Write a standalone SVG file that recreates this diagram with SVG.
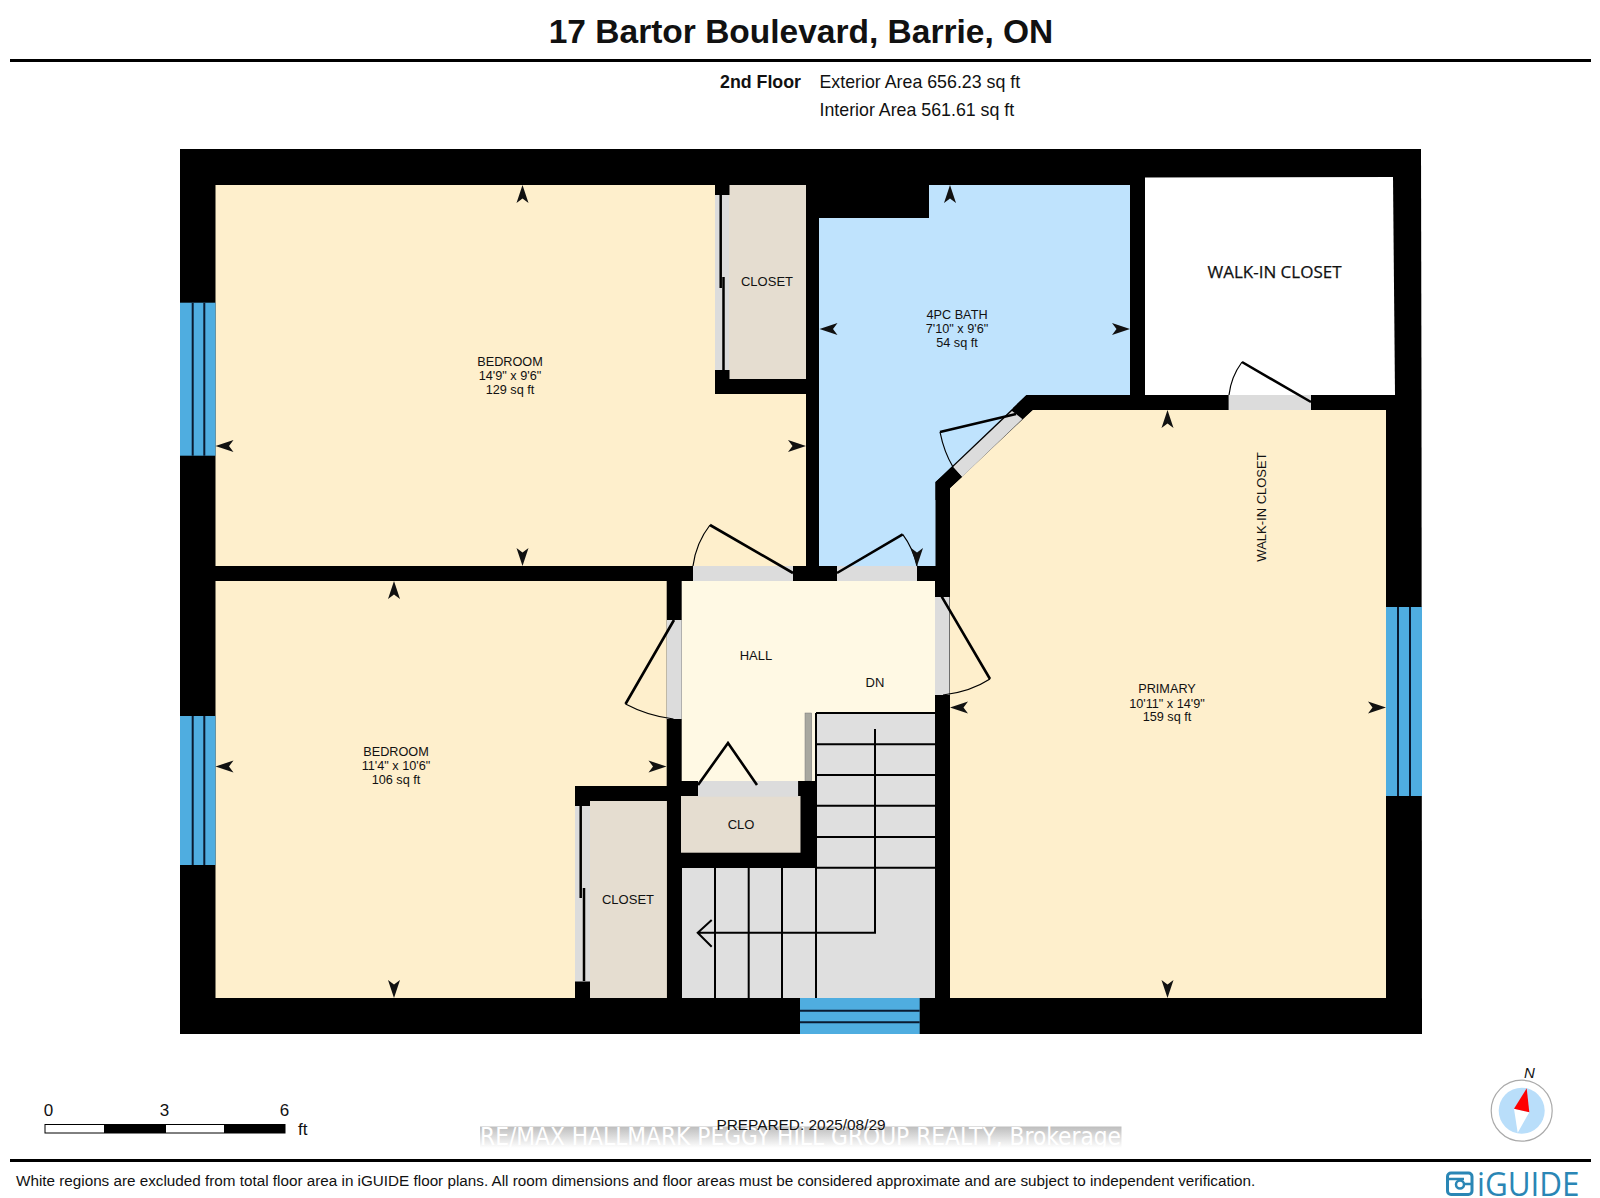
<svg xmlns="http://www.w3.org/2000/svg" width="1600" height="1198" viewBox="0 0 1600 1198">
<defs>
<path id="ah" d="M0 0L6 18L0 13.5L-6 18Z" fill="#111"/>
<linearGradient id="wm" x1="0" y1="0" x2="0" y2="1"><stop offset="0" stop-color="#bdbdbd"/><stop offset="1" stop-color="#ffffff"/></linearGradient>
</defs>
<style>
text{font-family:"Liberation Sans",Arial,sans-serif;fill:#111}
.rm{font-size:12.7px;text-anchor:middle}
.lb{font-size:13px;text-anchor:middle}
.door{fill:#dcdcdc}
.wall{fill:#000}
.win{fill:#4fade0}
.wl{stroke:#0a1a30;stroke-width:2;fill:none}
.leaf{stroke:#000;stroke-width:2.600;fill:none}
.arc{stroke:#000;stroke-width:1.200;fill:none}
.st{stroke:#000;stroke-width:2;fill:none}
.cream{fill:#feefcc}
.clo{fill:#e5ddd0}
</style>
<rect width="1600" height="1198" fill="#fff"/>
<g id="header">
<text x="801" y="43" font-size="33.500" font-weight="bold" text-anchor="middle">17 Bartor Boulevard, Barrie, ON</text>
<rect x="10" y="59" width="1581" height="3" fill="#000"/>
<text x="801" y="88" font-size="17.800" font-weight="bold" text-anchor="end">2nd Floor</text>
<text x="819.500" y="88" font-size="17.800">Exterior Area 656.23 sq ft</text>
<text x="819.500" y="115.500" font-size="17.800">Interior Area 561.61 sq ft</text>
</g>
<g id="walls"><path class="wall" d="M180 149H1421L1421.500 405L1422 1034H180Z"/></g>
<g id="bedroom-1">
<rect class="cream" x="215.500" y="185" width="590.500" height="381"/>
<rect class="clo" x="729" y="185" width="77" height="194"/>
<rect class="door" x="715" y="195" width="14" height="175"/>
<path class="wall" d="M715 185H729.500V195H715ZM715 370H729.500V379H806V394H715Z"/>
<path d="M720.700 195V288M723.500 277V370" stroke="#000" stroke-width="2.500" fill="none"/>
<text class="rm" x="510" y="366">BEDROOM</text><text class="rm" x="510" y="380">14'9" x 9'6"</text><text class="rm" x="510" y="394">129 sq ft</text>
<text class="lb" x="767" y="286">CLOSET</text>
</g>
<g id="bedroom-2">
<rect class="cream" x="215.500" y="581" width="451.200" height="417"/>
<rect class="clo" x="590" y="801" width="76.700" height="197"/>
<rect class="door" x="575" y="806" width="15" height="176"/>
<path class="wall" d="M575 786H667V801H590V806H575ZM575 981.500H590V998H575Z"/>
<path d="M580.700 806V898M584 888V981" stroke="#000" stroke-width="2.500" fill="none"/>
<text class="rm" x="396" y="756">BEDROOM</text><text class="rm" x="396" y="770">11'4" x 10'6"</text><text class="rm" x="396" y="784">106 sq ft</text>
<text class="lb" x="628" y="904">CLOSET</text>
</g>
<g id="hall">
<path d="M681.700 581H935V713H816V781H681.700Z" fill="#fff9e4"/>
<text class="lb" x="756" y="660">HALL</text>
<text class="lb" x="875" y="687">DN</text>
</g>
<g id="clo">
<rect class="clo" x="681" y="796" width="119.700" height="56.700"/>
<rect class="door" x="698" y="781" width="100.300" height="15.700"/>
<text class="lb" x="741" y="829">CLO</text>
</g>
<g id="stairs">
<path d="M817 713H935V998H682V868H817Z" fill="#dfdfdf"/>
<rect x="805" y="713" width="6.700" height="68" fill="#a8a8a0" stroke="#777" stroke-width=".5"/>
<path class="wall" d="M798.300 781H811.700V788H816.700V868H800.700V796H798.300Z"/>
<path class="st" d="M816 713H935M816 713V790M817 744.300H935M817 775H935M817 805.700H935M817 837H935M817 867.700H935M715 868V998M748.700 868V998M782 868V998M816 868V998"/>
<path class="st" d="M875 729V932.700H698M711.700 920L697.700 932.700L711.700 946.700"/>
</g>
<g id="bath">
<path d="M819 218H929V185H1130V395H1026.500L935.500 482V566H819Z" fill="#bfe3fd"/>
<text class="rm" x="957" y="319">4PC BATH</text><text class="rm" x="957" y="333">7'10" x 9'6"</text><text class="rm" x="957" y="347">54 sq ft</text>
</g>
<g id="walk-in">
<path d="M1145 177.500L1393 177L1395 395H1145Z" fill="#fff"/>
<text x="1274.500" y="278" font-size="17" text-anchor="middle" stroke="#111" stroke-width=".25" style="font-family:'Open Sans',sans-serif">WALK-IN CLOSET</text>
</g>
<g id="primary">
<path class="cream" d="M1032.600 410H1386V998H950V488Z"/>
<text class="rm" x="1167" y="693">PRIMARY</text><text class="rm" x="1167" y="708">10'11" x 14'9"</text><text class="rm" x="1167" y="721">159 sq ft</text>
<text class="lb" x="0" y="0" transform="translate(1266 507) rotate(-90)">WALK-IN CLOSET</text>
</g>
<g id="doors">
<rect class="door" x="693" y="566" width="100" height="15"/>
<rect class="door" x="837" y="566" width="80" height="15"/>
<rect class="door" x="935" y="597" width="14.500" height="98"/>
<rect class="door" x="666.700" y="620" width="15" height="99"/>
<rect class="door" x="1228.600" y="395" width="82.400" height="15"/>
<path class="door" d="M1012 411L1022.400 419L962 477L953 467Z"/>
<path class="wall" d="M1013 408L1026.500 395L1032.600 410L1022.400 419ZM935.500 482L953 467L962 477L950 488V500H935.500Z"/>
<path class="leaf" d="M793 573L710 525M837 573L902.700 534.300M941.700 596.700L990 679M674 620L625.500 704M1311 402L1242 362M1016 414L940 432M698 785L728 743L757 785"/>
<path class="arc" d="M710 525Q696 543 693 566M902.700 534.300Q913 548 917 566M990 679Q970 692 943 695M625.500 704Q648 716 673.500 719M1242 362Q1231 377 1229 395M940 432Q944 452 953 467"/>
</g>
<g id="windows">
<rect class="win" x="180" y="302.700" width="35.500" height="153"/><path class="wl" d="M192.700 302.700V455.700M204.300 302.700V455.700"/>
<rect class="win" x="180" y="716" width="35.500" height="149"/><path class="wl" d="M192.700 716V865M204.300 716V865"/>
<rect class="win" x="1386" y="607" width="36" height="189"/><path class="wl" d="M1398 607V796M1410 607V796"/>
<rect class="win" x="800" y="998" width="119.700" height="36"/><path class="wl" d="M800 1010.700H919.700M800 1022.300H919.700"/>
</g>
<g id="dimension-arrows">
<use href="#ah" transform="translate(522.500 185)"/><use href="#ah" transform="translate(522.500 566) rotate(180)"/><use href="#ah" transform="translate(215.500 446) rotate(-90)"/><use href="#ah" transform="translate(806 446) rotate(90)"/>
<use href="#ah" transform="translate(394 581)"/><use href="#ah" transform="translate(394 998) rotate(180)"/><use href="#ah" transform="translate(215.500 766.500) rotate(-90)"/><use href="#ah" transform="translate(666.500 766.500) rotate(90)"/>
<use href="#ah" transform="translate(950 185)"/><use href="#ah" transform="translate(917 566) rotate(180)"/><use href="#ah" transform="translate(819.500 329) rotate(-90)"/><use href="#ah" transform="translate(1130 329) rotate(90)"/>
<use href="#ah" transform="translate(1167.500 410)"/><use href="#ah" transform="translate(1167.500 998) rotate(180)"/><use href="#ah" transform="translate(950 707.500) rotate(-90)"/><use href="#ah" transform="translate(1386 707.500) rotate(90)"/>
</g>
<g id="scale">
<rect x="45" y="1124.500" width="240" height="8.500" fill="#fff" stroke="#000" stroke-width="1"/>
<rect x="104" y="1124.500" width="62" height="8.500" fill="#000"/><rect x="224" y="1124.500" width="61" height="8.500" fill="#000"/>
<text x="48.500" y="1116" font-size="17" text-anchor="middle">0</text><text x="164.500" y="1116" font-size="17" text-anchor="middle">3</text><text x="284.500" y="1116" font-size="17" text-anchor="middle">6</text>
<text x="298" y="1135" font-size="17">ft</text>
</g>
<g id="watermark">
<rect x="480" y="1126.500" width="641.500" height="21.500" fill="url(#wm)"/>
<text x="480" y="1145" font-size="24" textLength="641" lengthAdjust="spacingAndGlyphs" style="font-family:'DejaVu Sans',sans-serif;fill:#fff">RE/MAX HALLMARK PEGGY HILL GROUP REALTY, Brokerage</text>
<text x="801" y="1130" font-size="15.400" text-anchor="middle">PREPARED: 2025/08/29</text>
</g>
<g id="compass">
<circle cx="1521.700" cy="1110.700" r="30.500" fill="#fff" stroke="#aaa" stroke-width="1.200"/>
<circle cx="1521.700" cy="1110.700" r="23" fill="#b9defa"/>
<path d="M1514 1108.700L1529.300 1112.300L1517.700 1132.700Z" fill="#fff"/>
<path d="M1526.700 1088.300L1514 1108.700L1529.300 1112.300Z" fill="#f00"/>
<text x="1529.500" y="1078" font-size="15" font-style="italic" text-anchor="middle">N</text>
</g>
<g id="footer">
<rect x="10" y="1159" width="1581" height="3" fill="#000"/>
<text x="16" y="1186" font-size="15.250">White regions are excluded from total floor area in iGUIDE floor plans. All room dimensions and floor areas must be considered approximate and are subject to independent verification.</text>
</g>
<g id="logo">
<rect x="1447.500" y="1173" width="24.500" height="21.500" rx="3.500" fill="none" stroke="#2a86b5" stroke-width="3"/>
<path d="M1448 1179H1464M1464 1184H1471" stroke="#2a86b5" stroke-width="2.500" fill="none"/>
<circle cx="1460" cy="1184.500" r="4" fill="none" stroke="#2a86b5" stroke-width="2.500"/>
<text x="1477" y="1195.500" font-size="33" textLength="102.500" lengthAdjust="spacingAndGlyphs" style="font-family:'Open Sans',sans-serif;fill:#2a86b5">iGUIDE</text>
</g>
</svg>
